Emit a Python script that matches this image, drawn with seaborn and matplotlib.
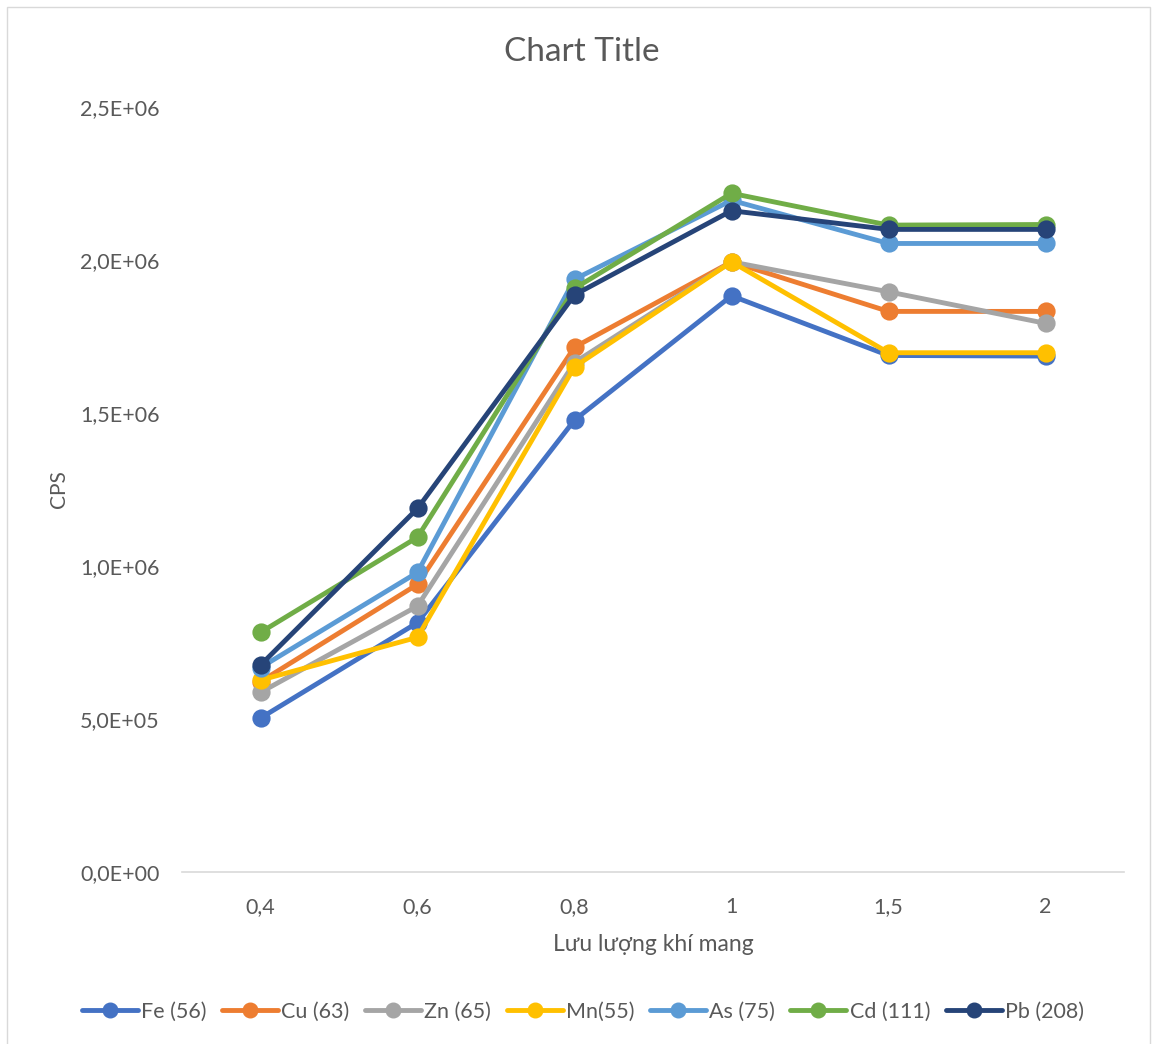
import matplotlib
matplotlib.use("Agg")
import matplotlib.pyplot as plt
import matplotlib.ticker as mticker
from matplotlib.patches import Rectangle
import seaborn as sns
import pandas as pd

# Carrier gas flow settings (categorical x axis)
flow_labels = ["0,4", "0,6", "0,8", "1", "1,5", "2"]

# Signal intensity (CPS) for each isotope
fe_56 = [0.503e6, 0.815e6, 1.477e6, 1.883e6, 1.688e6, 1.686e6]
cu_63 = [0.622e6, 0.940e6, 1.715e6, 1.994e6, 1.832e6, 1.832e6]
zn_65 = [0.587e6, 0.869e6, 1.665e6, 1.994e6, 1.896e6, 1.793e6]
mn_55 = [0.627e6, 0.767e6, 1.651e6, 1.994e6, 1.697e6, 1.697e6]
as_75 = [0.668e6, 0.979e6, 1.937e6, 2.195e6, 2.054e6, 2.054e6]
cd_111 = [0.783e6, 1.094e6, 1.907e6, 2.218e6, 2.114e6, 2.116e6]
pb_208 = [0.676e6, 1.188e6, 1.886e6, 2.161e6, 2.100e6, 2.100e6]

series_names = ["Fe (56)", "Cu (63)", "Zn (65)", "Mn(55)", "As (75)", "Cd (111)", "Pb (208)"]
series_values = [fe_56, cu_63, zn_65, mn_55, as_75, cd_111, pb_208]
series_colors = ["#4472C4", "#ED7D31", "#A5A5A5", "#FFC000", "#5B9BD5", "#70AD47", "#264478"]

records = []
for name, vals in zip(series_names, series_values):
    for lab, v in zip(flow_labels, vals):
        records.append({"flow": lab, "cps": v, "element": name})
df = pd.DataFrame(records)

sns.set_theme(style="white")
plt.rcParams["font.family"] = ["Lato", "DejaVu Sans"]
text_color = "#595959"
line_w = 3.5
marker_s = 10.5

fig = plt.figure(figsize=(11.52, 10.44), dpi=100)
ax = fig.add_axes([182 / 1152, 1 - 872 / 1044, (1124 - 182) / 1152, (872 - 107) / 1044])

sns.pointplot(
    data=df, x="flow", y="cps", hue="element",
    order=flow_labels, hue_order=series_names,
    palette=dict(zip(series_names, series_colors)),
    markers="o", markersize=marker_s, linewidth=line_w,
    errorbar=None, ax=ax, legend=False,
)

ax.set_xlim(-0.5, len(flow_labels) - 0.5)
ax.set_ylim(0, 2.5e6)
ax.yaxis.set_major_locator(mticker.MultipleLocator(0.5e6))
ax.yaxis.set_major_formatter(
    mticker.FuncFormatter(lambda v, _: f"{v:.1E}".replace(".", ","))
)

for side in ["top", "right", "left"]:
    ax.spines[side].set_visible(False)
ax.spines["bottom"].set_color("#D9D9D9")
ax.spines["bottom"].set_linewidth(1.2)
ax.grid(False)
ax.tick_params(axis="both", length=0, labelsize=15.5, colors=text_color)
ax.tick_params(axis="y", pad=16)
ax.tick_params(axis="x", pad=18)

ax.set_xlabel("Lưu lượng khí mang", fontsize=16.5, color=text_color, labelpad=12)
ax.set_ylabel("CPS", fontsize=15, color=text_color, labelpad=8)
fig.text(0.505, 1 - 52 / 1044, "Chart Title", ha="center", va="center",
         fontsize=24, color=text_color)

# Legend below the plot
handles = [
    plt.Line2D([0], [0], color=c, lw=line_w, marker="o", markersize=marker_s)
    for c in series_colors
]
fig.legend(handles, series_names, loc="center", ncol=7,
           bbox_to_anchor=(0.506, 1 - 1012 / 1044), frameon=False,
           fontsize=15.5, handlelength=2.6, handletextpad=0.15,
           columnspacing=0.72, labelcolor=text_color)

# Chart-area border
fig.patches.append(Rectangle((7 / 1152, -0.01), (1150 - 7) / 1152, 1 - 7 / 1044 + 0.01,
                             transform=fig.transFigure, fill=False,
                             edgecolor="#D9D9D9", linewidth=1.0))

fig.savefig("out.png", dpi=100, facecolor="white")
